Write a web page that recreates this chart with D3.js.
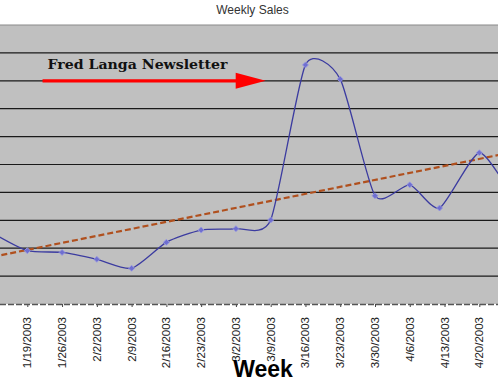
<!DOCTYPE html>
<html>
<head>
<meta charset="utf-8">
<script src="https://cdn.jsdelivr.net/npm/d3@7"></script>
<style>
  body { margin: 0; background: #fff; }
  svg { display: block; }
</style>
</head>
<body>
<svg id="chart"></svg>
<script>
// weekly sales (first and last week run off the visible plot)
var weeks = ["1/12/2003", "1/19/2003", "1/26/2003", "2/2/2003", "2/9/2003", "2/16/2003", "2/23/2003",
  "3/2/2003", "3/9/2003", "3/16/2003", "3/23/2003", "3/30/2003", "4/6/2003", "4/12/2003", "4/20/2003", "4/27/2003"]
var sales = [254, 191, 185, 160, 128, 221, 265, 270, 301, 857, 806, 388, 427, 344, 542, 373]
var tickLabels = ["1/19/2003", "1/26/2003", "2/2/2003", "2/9/2003", "2/16/2003", "2/23/2003", "3/2/2003",
  "3/9/2003", "3/16/2003", "3/23/2003", "3/30/2003", "4/6/2003", "4/13/2003", "4/20/2003"]
var gridValues = [100, 200, 300, 400, 500, 600, 700, 800, 900]
var annotation = "Fred Langa Newsletter"
var annotationFrom = "1/12/2003", annotationTo = "3/9/2003", annotationLevel = 800

var W = 498, H = 382
var parse = d3.timeParse("%m/%d/%Y")
var svg = d3.select("#chart").attr("width", W).attr("height", H)

var plotTop = 25, plotBottom = 304

var x = d3.scaleTime()
  .domain([parse("1/19/2003"), parse("4/20/2003")])
  .range([27.3, 479.3])
var y = d3.scaleLinear()
  .domain([0, 1000])
  .range([plotBottom, plotTop])

var data = weeks.map(function(w, i) { return {date: parse(w), value: sales[i]} })

// plot background
svg.append("rect")
  .attr("x", 0).attr("y", plotTop)
  .attr("width", W).attr("height", plotBottom - plotTop)
  .attr("fill", "#c0c0c0")
svg.append("line")
  .attr("x1", 0).attr("x2", W).attr("y1", plotTop).attr("y2", plotTop)
  .attr("stroke", "#8a8a8a").attr("stroke-width", 1.2)

// gridlines
svg.selectAll(".grid")
  .data(gridValues)
  .enter()
  .append("line")
  .attr("x1", 0).attr("x2", W)
  .attr("y1", function(d) { return y(d) })
  .attr("y2", function(d) { return y(d) })
  .attr("stroke", "#1a1a1a")
  .attr("stroke-width", 1.2)

// x axis
var xAxis = d3.axisBottom(x)
  .tickValues(tickLabels.map(parse))
  .tickSize(3)
  .tickFormat("")
var gx = svg.append("g")
  .attr("transform", "translate(0," + plotBottom + ")")
  .call(xAxis)
gx.select(".domain").remove()
gx.selectAll(".tick line").attr("stroke", "#444")
gx.append("line")
  .attr("x1", 0).attr("x2", W).attr("y1", 0.5).attr("y2", 0.5)
  .attr("stroke", "#555").attr("stroke-width", 1.4)
  .attr("stroke-dasharray", "6,2")

svg.selectAll(".xlabel")
  .data(tickLabels)
  .enter()
  .append("text")
  .attr("transform", function(d) { return "translate(" + x(parse(d)) + ",317) rotate(-90)" })
  .attr("dy", "0.35em")
  .attr("text-anchor", "end")
  .attr("font-family", "Liberation Sans, Arial, sans-serif")
  .attr("font-size", "11.5px")
  .attr("fill", "#222")
  .text(function(d) { return d })

// trend line (least squares over the weekly series)
var n = data.length
var xs = d3.range(n)
var mx = d3.mean(xs), my = d3.mean(sales)
var slope = d3.sum(xs, function(i) { return (i - mx) * (sales[i] - my) }) / d3.sum(xs, function(i) { return (i - mx) * (i - mx) })
var icpt = my - slope * mx
var trend = [0, n - 1].map(function(i) { return {date: data[i].date, value: icpt + slope * i} })

svg.append("path")
  .datum(trend)
  .attr("d", d3.line().x(function(d) { return x(d.date) }).y(function(d) { return y(d.value) }))
  .attr("fill", "none")
  .attr("stroke", "#b0501e")
  .attr("stroke-width", 2.2)
  .attr("stroke-dasharray", "6,3")

// sales line
svg.append("path")
  .datum(data)
  .attr("d", d3.line()
    .x(function(d) { return x(d.date) })
    .y(function(d) { return y(d.value) })
    .curve(d3.curveCardinal.tension(0.35)))
  .attr("fill", "none")
  .attr("stroke", "#3b3ba0")
  .attr("stroke-width", 1.3)

svg.selectAll(".marker")
  .data(data)
  .enter()
  .append("path")
  .attr("d", d3.symbol().type(d3.symbolSquare).size(18))
  .attr("transform", function(d) { return "translate(" + x(d.date) + "," + y(d.value) + ") rotate(45)" })
  .attr("fill", "#6f6fd0")
  .attr("stroke", "#9a9ae2")
  .attr("stroke-width", 0.8)

// annotation arrow
var ay = y(annotationLevel)
var ax0 = x(parse(annotationFrom)) + 50, ax1 = x(parse(annotationTo)) - 5
svg.append("line")
  .attr("x1", ax0).attr("x2", ax1 - 28)
  .attr("y1", ay).attr("y2", ay)
  .attr("stroke", "#ff0000").attr("stroke-width", 3.3)
svg.append("path")
  .attr("d", "M" + (ax1 - 30) + "," + (ay - 8) + "L" + ax1 + "," + ay + "L" + (ax1 - 30) + "," + (ay + 8) + "Z")
  .attr("fill", "#ff0000")

svg.append("text")
  .attr("x", 47.5).attr("y", 68.5)
  .attr("font-family", "DejaVu Serif, serif")
  .attr("font-weight", "bold")
  .attr("font-size", "13.5px")
  .attr("textLength", 180)
  .attr("lengthAdjust", "spacingAndGlyphs")
  .attr("fill", "#111")
  .text(annotation)

// titles
svg.append("text")
  .attr("x", 252.5).attr("y", 14)
  .attr("text-anchor", "middle")
  .attr("font-family", "Liberation Sans, Arial, sans-serif")
  .attr("font-size", "12px")
  .attr("fill", "#333")
  .text("Weekly Sales")

svg.append("text")
  .attr("x", 263).attr("y", 377)
  .attr("text-anchor", "middle")
  .attr("font-family", "Liberation Sans, Arial, sans-serif")
  .attr("font-weight", "bold")
  .attr("font-size", "23px")
  .attr("fill", "#000")
  .text("Week")
</script>
</body>
</html>
